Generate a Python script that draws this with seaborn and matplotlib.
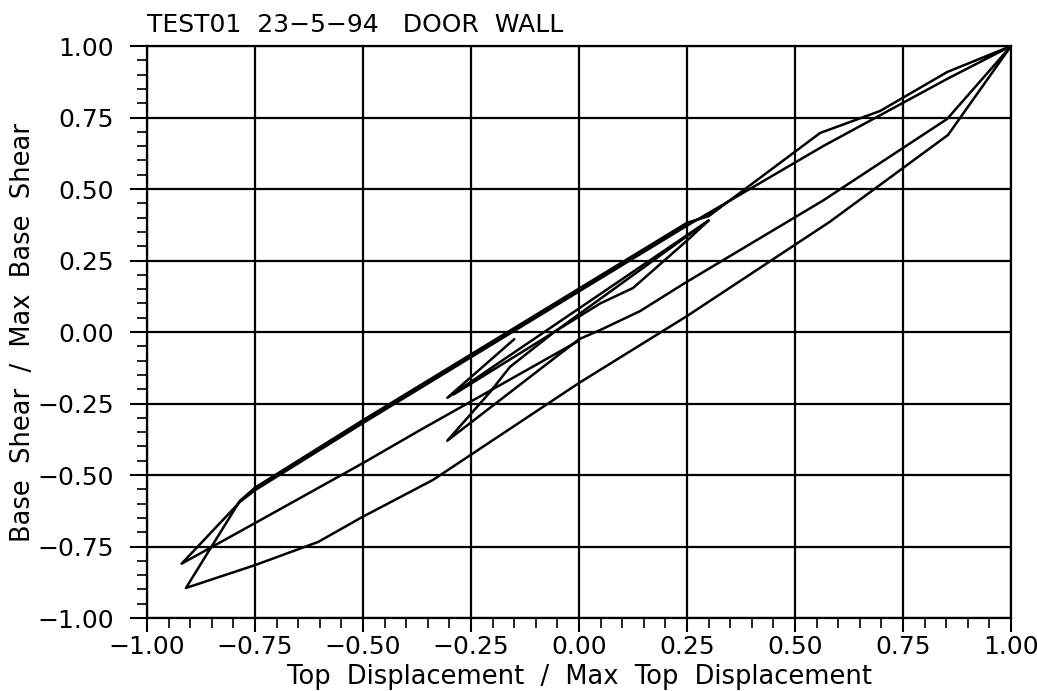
import numpy as np
import pandas as pd
import matplotlib
matplotlib.use("Agg")
import matplotlib.pyplot as plt
import seaborn as sns
from matplotlib.ticker import MultipleLocator

# Normalised hysteresis record: top displacement / max vs base shear / max.
# Each branch is one continuous stretch of the record.
small_disp = [-0.150, -0.305, 0.300, 0.250, 0.125, 0.049, -0.290]
small_shear = [-0.025, -0.230, 0.390, 0.320, 0.154, 0.100, -0.218]

main_disp = [0.300, -0.060, -0.160, -0.206, -0.305, 0.000, 0.049, 0.141, 0.250,
             0.565, 0.852, 1.000, 0.854, 0.580, 0.250, 0.000, -0.338, -0.502,
             -0.604, -0.750, -0.910, -0.785, -0.750, -0.500, -0.250, 0.000,
             0.250, 0.300, 0.558, 0.697, 0.852, 1.000, 0.852, 0.565, 0.250,
             0.000, -0.250, -0.500, -0.750, -0.785, -0.920, -0.750, -0.500,
             -0.368, 0.000]
main_shear = [0.390, -0.003, -0.122, -0.210, -0.380, -0.025, 0.007, 0.073, 0.176,
              0.460, 0.745, 1.000, 0.689, 0.385, 0.056, -0.178, -0.517, -0.647,
              -0.734, -0.815, -0.895, -0.590, -0.544, -0.308, -0.078, 0.152,
              0.382, 0.405, 0.696, 0.773, 0.909, 1.000, 0.885, 0.650, 0.372,
              0.142, -0.088, -0.318, -0.553, -0.594, -0.810, -0.668, -0.458,
              -0.343, -0.030]

x_ticks = [-1.00, -0.75, -0.50, -0.25, 0.00, 0.25, 0.50, 0.75, 1.00]
y_ticks = [-1.00, -0.75, -0.50, -0.25, 0.00, 0.25, 0.50, 0.75, 1.00]

df = pd.concat([
    pd.DataFrame({"disp": small_disp, "shear": small_shear, "branch": "small"}),
    pd.DataFrame({"disp": main_disp, "shear": main_shear, "branch": "main"}),
], ignore_index=True)

sns.set_theme(style="white")
plt.rcParams["font.family"] = ["DejaVu Sans"]

fig = plt.figure(figsize=(10.37, 6.91), dpi=100)
ax = fig.add_axes([0.1418, 0.1056, 0.975 - 0.1418, 0.9334 - 0.1056])

sns.lineplot(data=df, x="disp", y="shear", units="branch", estimator=None,
             sort=False, color="black", linewidth=1.8, ax=ax)

ax.set_xlim(-1, 1)
ax.set_ylim(-1, 1)
ax.set_xticks(x_ticks)
ax.set_yticks(y_ticks)
ax.set_xticklabels([f"{v:.2f}".replace("-", "\u2212") for v in x_ticks])
ax.set_yticklabels([f"{v:.2f}".replace("-", "\u2212") for v in y_ticks])
ax.xaxis.set_minor_locator(MultipleLocator(0.05))
ax.yaxis.set_minor_locator(MultipleLocator(0.05))
ax.tick_params(axis="x", which="major", direction="out", length=10, width=1.5,
               color="black", labelsize=18, labelcolor="black", pad=2,
               bottom=True, top=False)
ax.tick_params(axis="y", which="major", direction="out", length=12, width=1.5,
               color="black", labelsize=18, labelcolor="black", pad=12,
               left=True, right=False)
ax.tick_params(axis="both", which="minor", direction="out", length=7, width=1.2,
               color="black", bottom=True, left=True, top=False, right=False)
ax.grid(True, which="major", color="black", linewidth=1.6)
for side in ax.spines.values():
    side.set_color("black")
    side.set_linewidth(1.6)

ax.set_xlabel("Top  Displacement  /  Max  Top  Displacement", fontsize=18.5,
              color="black", labelpad=4)
ax.set_ylabel("Base  Shear  /  Max  Base  Shear", fontsize=18.5, color="black",
              labelpad=1)
ax.set_title("TEST01  23\u22125\u221294   DOOR  WALL", loc="left", fontsize=18,
             color="black", pad=10)
if ax.legend_:
    ax.legend_.remove()

fig.savefig("out.png", dpi=100, facecolor="white")
